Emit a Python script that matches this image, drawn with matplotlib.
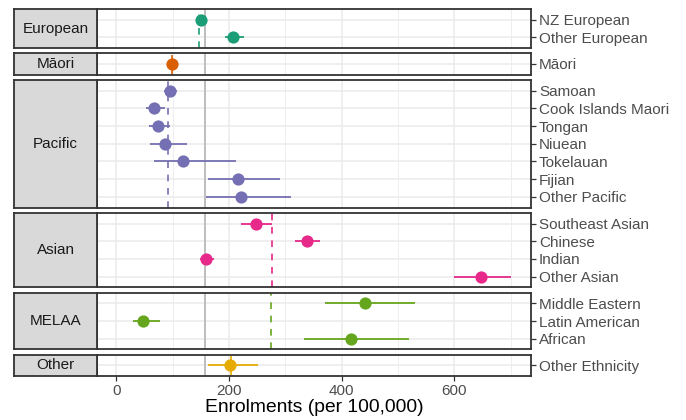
import matplotlib.pyplot as plt

plt.rcParams['font.family'] = ['Liberation Sans', 'DejaVu Sans']

# data
groups = ["European", "Māori", "Pacific", "Asian", "MELAA", "Other"]
group_sizes = [2, 1, 7, 4, 3, 1]
ethnicities = ["NZ European", "Other European",
               "Māori",
               "Samoan", "Cook Islands Maori", "Tongan", "Niuean",
               "Tokelauan", "Fijian", "Other Pacific",
               "Southeast Asian", "Chinese", "Indian", "Other Asian",
               "Middle Eastern", "Latin American", "African",
               "Other Ethnicity"]
rate = [151, 208, 99, 95, 67, 74, 86, 118, 216, 222,
        248, 339, 159, 648, 442, 47, 417, 202]
lower = [148, 193, 95, 84, 53, 59, 60, 67, 163, 160,
         222, 318, 148, 599, 370, 29, 334, 163]
upper = [154, 226, 104, 108, 87, 96, 125, 212, 291, 310,
         276, 362, 173, 700, 530, 78, 519, 251]
group_mean = [147, 99, 92, 277, 275, 203]
overall_rate = 158
x_ticks = [0, 200, 400, 600]

colors = ["#1B9E77", "#D95F02", "#7570B3", "#E7298A", "#66A61E", "#E6AB02"]

W, H = 686, 420
fig = plt.figure(figsize=(W / 100, H / 100), dpi=100)

panel_left, panel_right, strip_left = 97, 531, 14
top, bottom, gap = 9, 376, 5.3
units = [n - 1 + 1.2 for n in group_sizes]
unit_px = (bottom - top - gap * (len(groups) - 1)) / sum(units)

border = "#333333"
y0 = top
start = 0
for i, g in enumerate(groups):
    n = group_sizes[i]
    h = units[i] * unit_px
    rect_y = 1 - (y0 + h) / H
    ax = fig.add_axes([panel_left / W, rect_y, (panel_right - panel_left) / W, h / H])
    sax = fig.add_axes([strip_left / W, rect_y, (panel_left - strip_left) / W, h / H])

    idx = range(start, start + n)
    ys = list(range(n))

    # grid
    for v in [100, 300, 500, 700]:
        ax.axvline(v, color="#EBEBEB", lw=0.6, zorder=0)
    for v in x_ticks:
        ax.axvline(v, color="#EBEBEB", lw=1.1, zorder=0)
    for y in ys:
        ax.axhline(y, color="#EBEBEB", lw=1.1, zorder=0)

    ax.axvline(overall_rate, color="#BEBEBE", lw=1.4, zorder=1)
    ax.axvline(group_mean[i], color=colors[i], lw=1.2, ls=(0, (4, 4)), zorder=2)
    ax.hlines(ys, [lower[k] for k in idx], [upper[k] for k in idx],
              color=colors[i], lw=1.3, zorder=3)
    ax.plot([rate[k] for k in idx], ys, 'o', color=colors[i], ms=8.8,
            mec='none', zorder=4)

    ax.set_xlim(-34, 736)
    ax.set_ylim(n - 1 + 0.6, -0.6)
    ax.set_facecolor("white")
    ax.yaxis.tick_right()
    ax.set_yticks(ys)
    ax.set_yticklabels([ethnicities[k] for k in idx])
    ax.tick_params(axis='y', length=3.8, width=0.9, color=border, pad=2,
                   labelsize=11, labelcolor="#4D4D4D")
    ax.set_xticks(x_ticks)
    if i == len(groups) - 1:
        ax.tick_params(axis='x', length=3.8, width=0.9, color=border, pad=2,
                       labelsize=11, labelcolor="#4D4D4D")
    else:
        ax.tick_params(axis='x', length=0, labelbottom=False)
    for s in ax.spines.values():
        s.set_color(border)
        s.set_linewidth(1.3)

    sax.set_facecolor("#D9D9D9")
    sax.set_xticks([])
    sax.set_yticks([])
    for s in sax.spines.values():
        s.set_color(border)
        s.set_linewidth(1.3)
    sax.text(0.5, 0.5, g, ha='center', va='center', fontsize=11,
             color="#1A1A1A", transform=sax.transAxes)

    y0 += h + gap
    start += n

fig.text((panel_left + panel_right) / 2 / W, 1 - 407 / H,
         "Enrolments (per 100,000)", ha='center', va='center', fontsize=13.9)

fig.savefig("out.png", dpi=100)
